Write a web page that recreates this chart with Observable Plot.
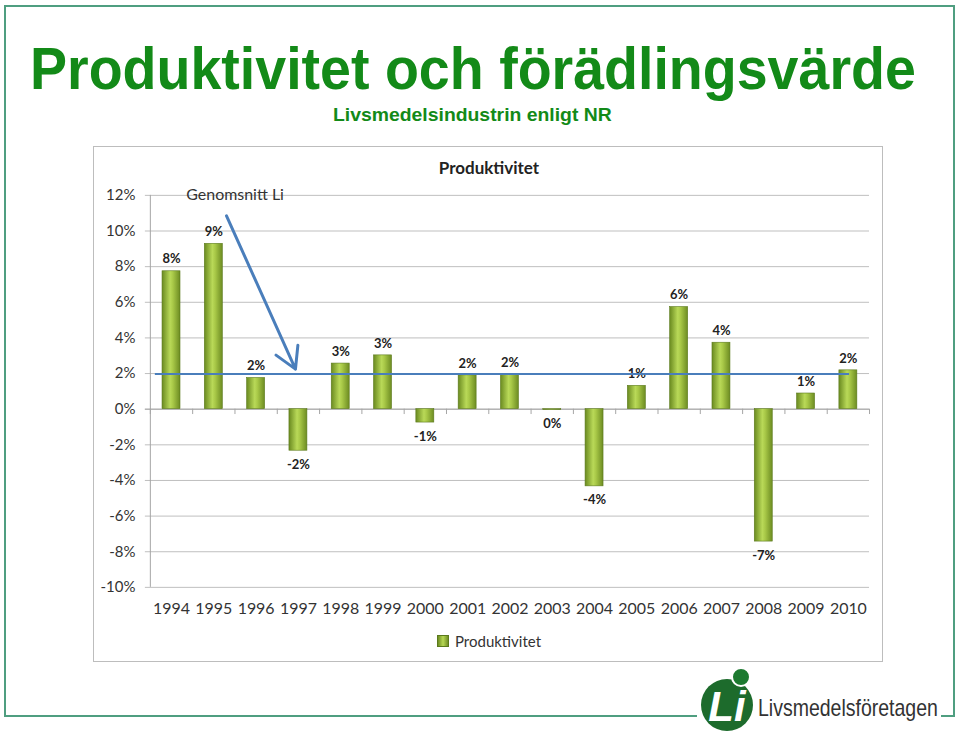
<!DOCTYPE html>
<html>
<head>
<meta charset="utf-8">
<script src="https://cdn.jsdelivr.net/npm/d3@7"></script>
<script src="https://cdn.jsdelivr.net/npm/@observablehq/plot@0.6"></script>
<style>
  html, body { margin: 0; padding: 0; background: #fff; }
  #page { position: relative; width: 960px; height: 735px; overflow: hidden; background: #fff; font-family: Lato, "Open Sans", sans-serif; }
  #deco { position: absolute; left: 0; top: 0; }
  #chartbox { position: absolute; left: 93px; top: 146px; width: 788px; height: 514px; border: 1px solid #bdbdbd; background: #fff; }
  #chartbox svg.plot { position: absolute; left: -1px; top: -1px; }
  #ctitle { position: absolute; left: 0; width: 790px; top: 10px; text-align: center; font-weight: 700; font-size: 17px; color: #222; }
  #legend { position: absolute; left: 0; width: 790px; top: 485px; text-align: center; font-size: 15px; color: #333; }
  #legend .sw { display: inline-block; width: 10px; height: 10px; margin-right: 6px; vertical-align: 0px; background: linear-gradient(90deg, #6d8c22, #b7d854 50%, #718f24); border: 0.5px solid #5b7a1c; }
</style>
</head>
<body>
<div id="page">
  <svg id="deco" width="960" height="735"></svg>
  <div id="chartbox">
    <div id="ctitle">Produktivitet</div>
    <div id="legend"><span class="sw"></span>Produktivitet</div>
  </div>
</div>
<script>
// ---- data ----
const years = [1994, 1995, 1996, 1997, 1998, 1999, 2000, 2001, 2002, 2003, 2004, 2005, 2006, 2007, 2008, 2009, 2010];
const productivity = [7.74, 9.28, 1.75, -2.33, 2.56, 3.02, -0.75, 1.9, 1.94, -0.05, -4.33, 1.31, 5.73, 3.73, -7.43, 0.88, 2.18];
const average = 1.97;
const yTicks = [-10, -8, -6, -4, -2, 0, 2, 4, 6, 8, 10, 12];
const annotationText = "Genomsnitt Li";
const annotationPos = { x: 1994.35, y: 12 };
const arrowData = [{ x1: 1995.3, y1: 10.85, x2: 1996.93, y2: 2.25 }];

const data = years.map((year, i) => ({ year, value: productivity[i] }));
const boundaries = years.map(y => y - 0.5).concat([years[years.length - 1] + 0.5]);
const fmt = v => `${Math.round(v)}%`;

const ink = "#333";
const chart = Plot.plot({
  width: 790,
  height: 516,
  marginLeft: 57,
  marginRight: 12,
  marginTop: 49,
  marginBottom: 74,
  x: { type: "linear", domain: [1993.5, 2010.5], axis: null },
  y: { domain: [-10, 12], axis: null },
  style: { fontFamily: "Lato, 'Open Sans', sans-serif", background: "transparent", overflow: "visible" },
  marks: [
    Plot.ruleY(yTicks, { y: d => d, stroke: "#bfbfbf", strokeOpacity: 1, insetLeft: -5 }),
    Plot.ruleX([1993.5], { x: d => d, stroke: "#a6a6a6", strokeOpacity: 1 }),
    Plot.ruleY([0], { y: d => d, stroke: "#a6a6a6", strokeOpacity: 1, insetLeft: -5 }),
    Plot.ruleX(boundaries, { x: d => d, y1: 0, y2: -0.3, stroke: "#a6a6a6", strokeOpacity: 1 }),
    Plot.rect(data, {
      x1: d => d.year - 0.5, x2: d => d.year + 0.5, y1: 0, y2: "value",
      insetLeft: 12.2, insetRight: 12.2,
      fill: "url(#barGrad)", stroke: "#5b7a1c", strokeWidth: 0.6
    }),
    Plot.text(data, {
      x: "year", y: "value", text: d => fmt(d.value),
      lineAnchor: "middle", fontWeight: "bold", fontSize: 13, fill: "#222",
      filter: d => d.value >= 0, dy: -12
    }),
    Plot.text(data, {
      x: "year", y: "value", text: d => fmt(d.value),
      lineAnchor: "middle", fontWeight: "bold", fontSize: 13, fill: "#222",
      filter: d => d.value < 0, dy: 14
    }),
    Plot.ruleY([average], { y: d => d, stroke: "#4a7ebb", strokeWidth: 2, insetLeft: 5, insetRight: 20 }),
    Plot.arrow(arrowData, { x1: "x1", y1: "y1", x2: "x2", y2: "y2", stroke: "#4a7ebb", strokeWidth: 3, headLength: 12 }),
    Plot.text([annotationText], { x: annotationPos.x, y: annotationPos.y, text: d => d, textAnchor: "start", fontSize: 16, fill: ink }),
    Plot.text(yTicks, { y: d => d, text: d => `${d}%`, frameAnchor: "left", dx: -15, textAnchor: "end", fontSize: 15, fill: ink }),
    Plot.text(years, { x: d => d, text: d => String(d), frameAnchor: "bottom", dy: 22, lineAnchor: "middle", fontSize: 16, fill: ink })
  ]
});
chart.classList.add("plot");
chart.insertAdjacentHTML("afterbegin",
  `<defs><linearGradient id="barGrad" x1="0" x2="1" y1="0" y2="0">
     <stop offset="0" stop-color="#6a8a20"/>
     <stop offset="0.45" stop-color="#b9d958"/>
     <stop offset="0.6" stop-color="#a9c948"/>
     <stop offset="1" stop-color="#6d8c22"/>
   </linearGradient></defs>`);
document.getElementById("chartbox").insertBefore(chart, document.getElementById("ctitle"));

// ---- slide decorations ----
const deco = d3.select("#deco");
deco.append("rect").attr("x", 5).attr("y", 6).attr("width", 949).attr("height", 710)
  .attr("fill", "none").attr("stroke", "#4f9e80").attr("stroke-width", 2);

// text fitted to a target width by a horizontal scale (narrow slide font look)
function fittedText(str, x, y, width, size, weight, fill) {
  const g = deco.append("g");
  const t = g.append("text").attr("x", 0).attr("y", 0)
    .attr("font-family", "Liberation Sans, Arial, sans-serif").attr("font-weight", weight)
    .attr("font-size", size).attr("fill", fill).text(str);
  const w = t.node().getComputedTextLength();
  g.attr("transform", `translate(${x},${y}) scale(${width / w},1)`);
  return g;
}
fittedText("Produktivitet och förädlingsvärde", 30, 89, 886, 60, "bold", "#138a18");
fittedText("Livsmedelsindustrin enligt NR", 333, 121, 279, 18, "bold", "#138a18");

// logo
deco.append("rect").attr("x", 697).attr("y", 665).attr("width", 244).attr("height", 70).attr("fill", "#fff");
deco.append("circle").attr("cx", 727).attr("cy", 705).attr("r", 26).attr("fill", "#1d6b2c");
deco.append("circle").attr("cx", 741).attr("cy", 677).attr("r", 9).attr("fill", "#1d7a30").attr("stroke", "#fff").attr("stroke-width", 2);
deco.append("text").attr("x", 727).attr("y", 721).attr("text-anchor", "middle")
  .attr("font-family", "Liberation Sans, Arial, sans-serif").attr("font-weight", "bold").attr("font-style", "italic")
  .attr("font-size", 42).attr("fill", "#fff").text("Li");
fittedText("Livsmedelsföretagen", 758, 716, 180, 23, "normal", "#333");
</script>
</body>
</html>
